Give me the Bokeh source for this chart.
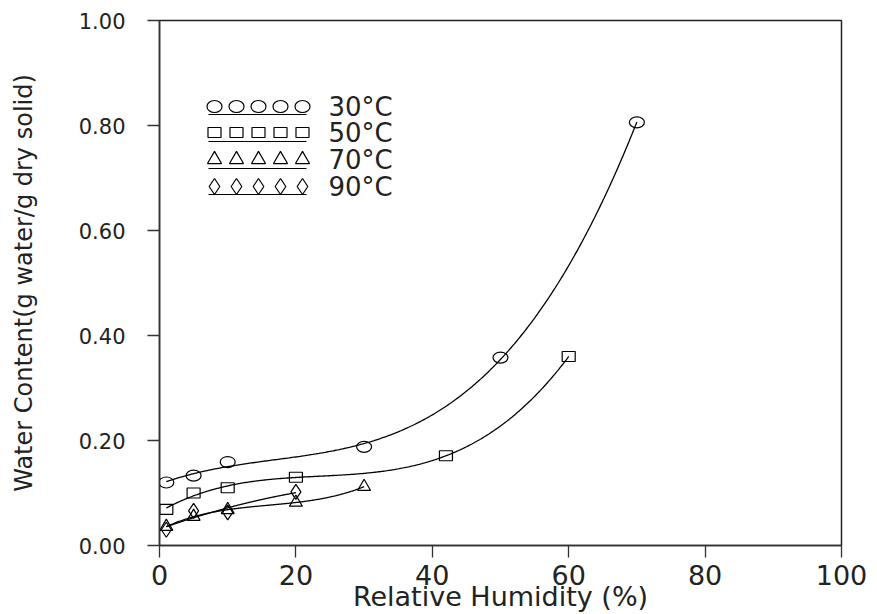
import numpy as np
from bokeh.plotting import figure
from bokeh.models import FixedTicker, NumeralTickFormatter
from bokeh.core.properties import value
from bokeh.embed import file_html
from bokeh.resources import INLINE

# ---- data ----
rh_30 = [1, 5, 10, 30, 50, 70]
wc_30 = [0.120, 0.133, 0.159, 0.188, 0.358, 0.806]
rh_50 = [1, 5, 10, 20, 42, 60]
wc_50 = [0.069, 0.100, 0.110, 0.130, 0.171, 0.360]
rh_70 = [1, 5, 10, 20, 30]
wc_70 = [0.036, 0.055, 0.068, 0.082, 0.112]
rh_90 = [1, 5, 10, 20]
wc_90 = [0.030, 0.066, 0.063, 0.102]
series_labels = ["30°C", "50°C", "70°C", "90°C"]
x_ticks = [0, 20, 40, 60, 80, 100]
y_ticks = [0.0, 0.2, 0.4, 0.6, 0.8, 1.0]

FONT = "DejaVu Sans"
INK = "#222222"

# frame geometry (pixels)
FL, FR, FT, FB = 159, 841, 20, 545
W, H = 877, 614

p = figure(width=W, height=H, x_range=(0, 100), y_range=(0, 1),
           output_backend="svg", toolbar_location=None,
           min_border_left=FL, min_border_right=W - FR,
           min_border_top=FT, min_border_bottom=H - FB)
p.background_fill_color = "white"
p.border_fill_color = "white"
p.grid.visible = False
p.outline_line_color = "#222222"
p.outline_line_width = 1.5
p.outline_line_alpha = 1.0

p.xaxis.ticker = FixedTicker(ticks=x_ticks)
p.yaxis.ticker = FixedTicker(ticks=y_ticks)
p.xaxis.formatter = NumeralTickFormatter(format="0")
p.yaxis.formatter = NumeralTickFormatter(format="0.00")
for ax in (p.xaxis, p.yaxis):
    ax.minor_tick_line_color = None
    ax.major_tick_in = 0
    ax.major_tick_out = 12
    ax.major_tick_line_color = "#333333"
    ax.major_tick_line_width = 1.3
    ax.axis_line_color = "#333333"
    ax.axis_line_width = 1.5
    ax.major_label_text_font = FONT
    ax.major_label_text_color = INK
    ax.axis_label_text_font = FONT
    ax.axis_label_text_font_style = "normal"
    ax.axis_label_text_color = INK

p.xaxis.axis_label = "Relative Humidity (%)"
p.xaxis.major_label_text_font_size = "27px"
p.xaxis.axis_label_text_font_size = "27px"
p.xaxis.major_label_standoff = 7
p.xaxis.axis_label_standoff = -7

p.yaxis.axis_label = "Water Content(g water/g dry solid)"
p.yaxis.major_label_text_font_size = "21px"
p.yaxis.axis_label_text_font_size = "24px"
p.yaxis.major_label_standoff = 22
p.yaxis.axis_label_standoff = 38


def fit_curve(rh, wc, deg):
    c = np.polyfit(rh, wc, deg)
    xs = np.linspace(rh[0], rh[-1], 300)
    return xs, np.polyval(c, xs)


LW = 1.3
for rh, wc, deg in ((rh_30, wc_30, 3), (rh_50, wc_50, 3), (rh_70, wc_70, 3), (rh_90, wc_90, 2)):
    xs, ys = fit_curve(rh, wc, deg)
    p.line(xs, ys, line_color="black", line_width=LW)

# markers
p.ellipse(rh_30, wc_30, width=15, height=11, width_units="screen", height_units="screen",
          fill_color=None, line_color="black", line_width=1.2)
p.rect(rh_50, wc_50, width=13, height=10, width_units="screen", height_units="screen",
       fill_color=None, line_color="black", line_width=1.2)
p.scatter(rh_70, wc_70, marker="triangle", size=13, fill_color=None, line_color="black", line_width=1.2)
p.scatter(rh_90, wc_90, marker="diamond", size=15, fill_color=None, line_color="black", line_width=1.2)

# ---- hand-drawn style legend (pixel layout converted to data units) ----
def dx(px):
    return (px - FL) / (FR - FL) * 100.0


def dy(py):
    return (FB - py) / (FB - FT) * 1.0


row_y = [106, 132, 159, 186]
mark_x = [214, 236, 258, 280, 302]
line_dy = [8, 9, 9, 8]
for i, lab in enumerate(series_labels):
    ys = [dy(row_y[i])] * len(mark_x)
    xs = [dx(m) for m in mark_x]
    p.segment(x0=[dx(208)], y0=[dy(row_y[i] + line_dy[i])], x1=[dx(306)], y1=[dy(row_y[i] + line_dy[i])],
              line_color="black", line_width=1.2)
    if i == 0:
        p.ellipse(xs, ys, width=15, height=12, width_units="screen", height_units="screen",
                  fill_color="white", line_color="black", line_width=1.2)
    elif i == 1:
        p.rect(xs, ys, width=13, height=10, width_units="screen", height_units="screen",
               fill_color="white", line_color="black", line_width=1.2)
    elif i == 2:
        p.scatter(xs, ys, marker="triangle", size=14, fill_color=None, line_color="black", line_width=1.2)
    else:
        p.scatter(xs, ys, marker="diamond", size=16, fill_color=None, line_color="black", line_width=1.2)
    p.text([dx(328)], [dy(row_y[i])], text=[lab], text_font=value(FONT), text_font_size="26px",
           text_baseline="middle", text_align="left", text_color=INK)

open("out.html", "w").write(file_html(p, INLINE))
